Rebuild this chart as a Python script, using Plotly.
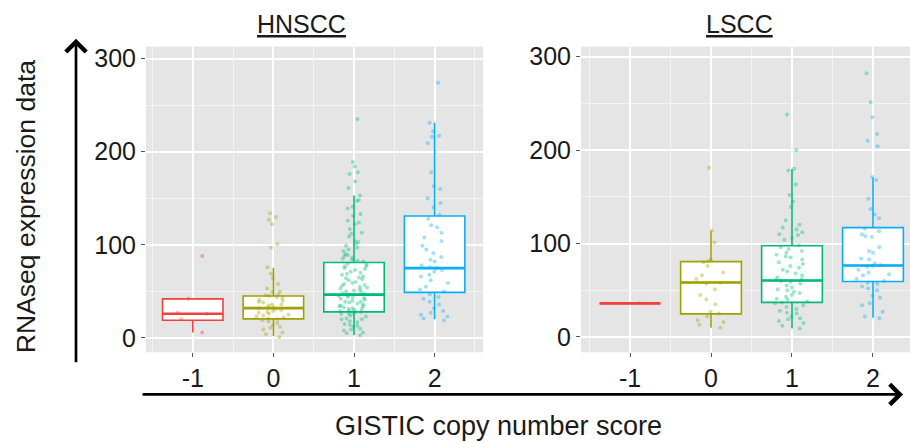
import plotly.graph_objects as go

# ---------------- data ----------------
categories = [-1, 0, 1, 2]
tick_labels = ["-1", "0", "1", "2"]
group_colors = ["#F2413B", "#A0A000", "#00BA78", "#0AAEF2"]
panel_titles = ["HNSCC", "LSCC"]
y_ticks = [0, 100, 200, 300]

# HNSCC box statistics (ggplot style: whiskers to most extreme point within 1.5 IQR)
hnscc_q1 = [19, 20.5, 28, 49]
hnscc_median = [26, 32, 46.5, 75]
hnscc_q3 = [42, 45, 81, 131]
hnscc_lower = [6, 2, 3, 20]
hnscc_upper = [42, 75.5, 153, 231]

# HNSCC jittered samples
hnscc_pts_m1 = [88, 42, 27, 26, 20, 6]
hnscc_pts_0 = [134, 130, 127, 122, 101, 97, 76, 69, 64, 58, 53, 50, 49, 47, 46, 45,
               44, 43, 41, 40, 39, 38, 36, 36, 35, 33, 32, 32, 31, 30, 29, 28, 27,
               26, 25, 24, 23, 22, 21, 20, 19, 18, 16, 14, 12, 11, 9, 6, 4, 1]
hnscc_pts_1 = [235, 189, 184, 178, 176, 168, 161,
               153, 148, 147, 141, 139, 133, 131, 126, 124, 122, 117, 113, 112, 109,
               104, 103, 101, 99, 97, 95, 93, 90, 89, 88, 86, 85, 84, 83, 82,
               80, 79, 77, 77, 75, 74, 73, 71, 70, 69, 68, 66, 65, 64, 63, 62, 60,
               59, 58, 57, 56, 55, 54, 53, 52, 51, 50, 49, 48, 47, 47,
               46, 45, 44, 44, 43, 42, 41, 40, 39, 39, 38, 37, 36, 35, 34, 34, 33,
               32, 31, 31, 30, 29, 29, 28, 28,
               27, 26, 26, 24, 23, 21, 20, 20, 18, 17, 15, 14, 13, 12, 10, 9, 8,
               6, 5, 3]
hnscc_pts_2 = [274, 231, 222, 217, 216, 209, 178, 163, 160, 150, 145, 140, 132, 128,
               121, 119, 113, 108, 104, 99, 95, 91, 87, 84, 82, 78, 76, 75, 73, 71,
               68, 66, 62, 59, 55, 52, 50, 47, 44, 42, 39, 36, 32, 29, 27, 25, 23,
               21, 19]

# LSCC box statistics
lscc_q1 = [36, 24.7, 37, 59.4]
lscc_median = [36, 58.3, 60.4, 76.4]
lscc_q3 = [36, 80.6, 97.6, 117]
lscc_lower = [36, 10, 9, 20.5]
lscc_upper = [36, 113.5, 179.6, 170.7]

# LSCC jittered samples
lscc_pts_m1 = [36]
lscc_pts_0 = [181, 114, 101, 83, 81, 80, 76, 69, 66, 62, 58, 57, 51, 45, 40, 35, 27,
              25, 22, 18, 16, 13, 10]
lscc_pts_1 = [238, 200, 180, 178, 163, 152, 145, 139, 125, 120, 117, 115, 112, 110,
              109, 106, 104, 98, 96, 94, 92, 90, 88, 86, 85, 83, 80, 78, 76, 74, 72,
              70, 68, 66, 64, 62, 61, 60, 59, 57, 55, 53, 51, 50, 48, 47, 45, 43, 41,
              40, 38, 37, 36, 34, 32, 30, 28, 26, 25, 22, 20, 19, 17, 15, 12, 9]
lscc_pts_2 = [282, 251, 235, 217, 210, 204, 171, 168, 148, 137, 131, 127, 116, 113,
              110, 108, 107, 96, 92, 90, 84, 83, 79, 77, 76, 75, 72, 69, 67, 66, 62,
              60, 58, 57, 54, 52, 50, 44, 42, 36, 34, 27, 22, 20]

# ---------------- figure ----------------
W, H = 910, 443
BOX_W = 0.75
FONT = "Liberation Sans, Arial, sans-serif"
TXT = "#1a1a1a"

panels = [
    dict(xa="x", ya="y", q1=hnscc_q1, med=hnscc_median, q3=hnscc_q3,
         lo=hnscc_lower, hi=hnscc_upper,
         pts=[hnscc_pts_m1, hnscc_pts_0, hnscc_pts_1, hnscc_pts_2]),
    dict(xa="x2", ya="y2", q1=lscc_q1, med=lscc_median, q3=lscc_q3,
         lo=lscc_lower, hi=lscc_upper,
         pts=[lscc_pts_m1, lscc_pts_0, lscc_pts_1, lscc_pts_2]),
]

fig = go.Figure()
for p in panels:
    for i, c in enumerate(categories):
        col = group_colors[i]
        fig.add_trace(go.Box(
            x=[c], q1=[p["q1"][i]], median=[p["med"][i]], q3=[p["q3"][i]],
            lowerfence=[p["lo"][i]], upperfence=[p["hi"][i]],
            width=BOX_W, whiskerwidth=0, fillcolor="white",
            line=dict(color=col, width=1.6), boxpoints=False,
            xaxis=p["xa"], yaxis=p["ya"], showlegend=False, hoverinfo="skip"))
        fig.add_trace(go.Scatter(
            x=[c - BOX_W / 2, c + BOX_W / 2], y=[p["med"][i], p["med"][i]],
            mode="lines", line=dict(color=col, width=2.6),
            xaxis=p["xa"], yaxis=p["ya"], showlegend=False, hoverinfo="skip"))
    for i, c in enumerate(categories):
        col = group_colors[i]
        pts = p["pts"][i]
        fig.add_trace(go.Box(
            x=[c] * len(pts), y=pts, boxpoints="all", jitter=0.6, pointpos=0,
            width=BOX_W, whiskerwidth=0, fillcolor="rgba(0,0,0,0)",
            line=dict(color="rgba(0,0,0,0)", width=0),
            marker=dict(color=col, size=4, opacity=0.38),
            xaxis=p["xa"], yaxis=p["ya"], showlegend=False, hoverinfo="skip"))

def xaxis_style(domain, rng):
    return dict(domain=domain, range=rng, tickmode="array", tickvals=categories,
                ticktext=tick_labels, showgrid=True, gridcolor="white", gridwidth=1.8,
                zeroline=False, showline=False, ticks="outside", ticklen=4,
                tickcolor="#555", tickwidth=1,
                tickfont=dict(family=FONT, size=25, color=TXT),
                minor=dict(tickvals=[-1.5, -0.5, 0.5, 1.5, 2.5], showgrid=True,
                           gridcolor="#F3F3F3", gridwidth=0.9, ticks=""),
                fixedrange=True)

def yaxis_style(domain, rng, anchor):
    return dict(domain=domain, range=rng, anchor=anchor, tickmode="array",
                tickvals=y_ticks, showgrid=True, gridcolor="white", gridwidth=1.8,
                zeroline=False, showline=False, ticks="outside", ticklen=4,
                tickcolor="#555", tickwidth=1,
                tickfont=dict(family=FONT, size=25, color=TXT),
                minor=dict(tickvals=[50, 150, 250], showgrid=True,
                           gridcolor="#F3F3F3", gridwidth=0.9, ticks=""),
                fixedrange=True)

ydom = [1 - 351.5 / H, 1 - 43 / H]
fig.update_layout(
    width=W, height=H, margin=dict(l=0, r=0, t=0, b=0),
    paper_bgcolor="white", plot_bgcolor="#E5E5E5", boxmode="overlay",
    xaxis=xaxis_style([146 / W, 483 / W], [-1.58, 2.6]),
    yaxis=yaxis_style(ydom, [-15.4, 312.8], "x"),
    xaxis2=dict(xaxis_style([581 / W, 1.0], [-1.605, 2.457]), anchor="y2"),
    yaxis2=yaxis_style(ydom, [-16.4, 310.6], "x2"),
    font=dict(family=FONT, color=TXT),
)

# panel titles (underlined)
for title, xc in zip(panel_titles, [301, 739]):
    fig.add_annotation(text=f"<u>{title}</u>", xref="paper", yref="paper",
                       x=xc / W, y=1 - 20 / H, showarrow=False,
                       font=dict(family=FONT, size=25, color=TXT),
                       xanchor="center", yanchor="middle")

# axis titles
fig.add_annotation(text="RNAseq expression data", xref="paper", yref="paper",
                   x=26 / W, y=1 - 205 / H, textangle=-90, showarrow=False,
                   font=dict(family=FONT, size=26.5, color=TXT),
                   xanchor="center", yanchor="middle")
fig.add_annotation(text="GISTIC copy number score", xref="paper", yref="paper",
                   x=498 / W, y=1 - 426 / H, showarrow=False,
                   font=dict(family=FONT, size=27, color=TXT),
                   xanchor="center", yanchor="middle")

# big axis arrows
fig.add_annotation(text="", xref="paper", yref="paper", x=76 / W, y=1 - 35 / H,
                   ax=0, ay=325, showarrow=True, arrowhead=4, arrowsize=1.45,
                   arrowwidth=2.7, arrowcolor="black", standoff=0)
fig.add_annotation(text="", xref="paper", yref="paper", x=903 / W, y=1 - 394 / H,
                   ax=-762, ay=0, showarrow=True, arrowhead=4, arrowsize=1.45,
                   arrowwidth=2.7, arrowcolor="black", standoff=0)

fig.write_html("out.html")
